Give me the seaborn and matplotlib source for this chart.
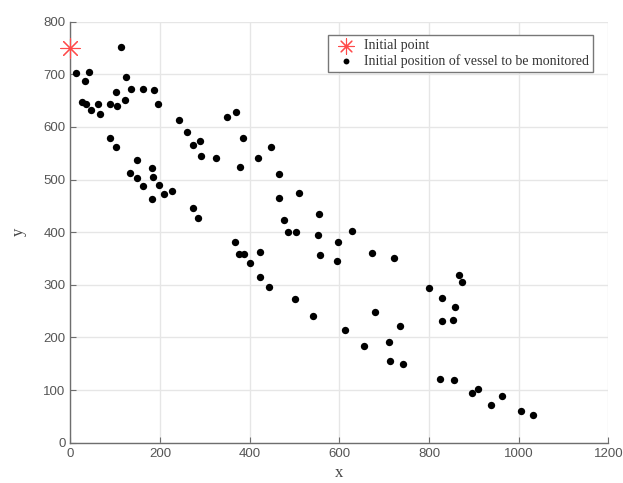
import numpy as np
import pandas as pd
import matplotlib
matplotlib.use("Agg")
import matplotlib.pyplot as plt
import seaborn as sns

# starting point
start_x = [0]
start_y = [750]

# vessel positions
vessel_x = [12, 32, 41, 26, 35, 46, 61, 67, 89, 102, 104, 89, 102, 112, 125, 122,
            135, 161, 186, 196, 242, 261, 273, 288, 291, 325, 349, 369, 386, 379,
            419, 447, 465, 465, 477, 486, 504, 509,
            132, 148, 148, 162, 183, 184, 183, 197, 208, 226, 274, 285, 367, 376,
            387, 424, 401, 424, 442, 501,
            555, 553, 556, 596, 595, 629, 673, 721, 867, 874, 800, 829, 859, 830,
            853, 542, 613, 680, 736, 656, 710, 712, 742, 825, 856, 896, 910, 939,
            963, 1006, 1031]
vessel_y = [703, 688, 705, 648, 644, 632, 644, 624, 643, 667, 639, 579, 562, 752, 695, 651,
            672, 672, 670, 644, 613, 591, 565, 574, 544, 541, 619, 629, 579, 524,
            541, 562, 510, 465, 423, 401, 401, 475,
            513, 538, 503, 488, 522, 505, 463, 489, 473, 478, 446, 427, 381, 359,
            359, 362, 342, 314, 295, 273,
            434, 395, 357, 382, 345, 402, 361, 351, 318, 306, 293, 275, 257, 231,
            233, 240, 214, 249, 221, 184, 191, 155, 150, 122, 119, 95, 102, 72,
            88, 60, 53]

df = pd.DataFrame({"x": vessel_x, "y": vessel_y})

sns.set_style("whitegrid")
plt.rcParams["font.family"] = ["Liberation Sans", "DejaVu Sans"]

fig = plt.figure(figsize=(6.23, 4.83), dpi=100)
ax = fig.add_axes([0.113, 0.0834, 0.8635, 0.8718])

asterisk = (8, 2, 0)
ax.scatter(start_x, start_y, marker=asterisk, s=190, color="#ff4a4a",
           linewidths=0.8, label="Initial point", zorder=4, clip_on=False)
sns.scatterplot(data=df, x="x", y="y", color="black", s=28, edgecolor="black",
                linewidth=0, label="Initial position of vessel to be monitored",
                ax=ax, zorder=3)

ax.set_xlim(0, 1200)
ax.set_ylim(0, 800)
ax.set_xticks(np.arange(0, 1201, 200))
ax.set_yticks(np.arange(0, 801, 100))
ax.grid(True, color="#e6e6e6", linewidth=1.0)

for side in ["top", "right"]:
    ax.spines[side].set_visible(False)
for side in ["left", "bottom"]:
    ax.spines[side].set_color("#6e6e6e")
    ax.spines[side].set_linewidth(1.0)

ax.tick_params(direction="in", length=4, width=0.8, colors="#6e6e6e",
               labelcolor="#555555", labelsize=9.5, left=True, bottom=True)

ax.set_xlabel("x", family="Liberation Serif", fontsize=12, color="#444444", labelpad=4)
ax.set_ylabel("y", family="Liberation Serif", fontsize=12, color="#444444", labelpad=12)

leg = ax.legend(loc="upper right", bbox_to_anchor=(0.972, 0.968), borderaxespad=0,
                frameon=True, fancybox=False, edgecolor="#777777", framealpha=1,
                prop={"family": "Liberation Serif", "size": 10},
                handletextpad=0.3, borderpad=0.3, labelspacing=0.15, markerscale=0.8)
leg.get_frame().set_linewidth(1.0)
for t in leg.get_texts():
    t.set_color("#333333")

fig.savefig("out.png", dpi=100)
